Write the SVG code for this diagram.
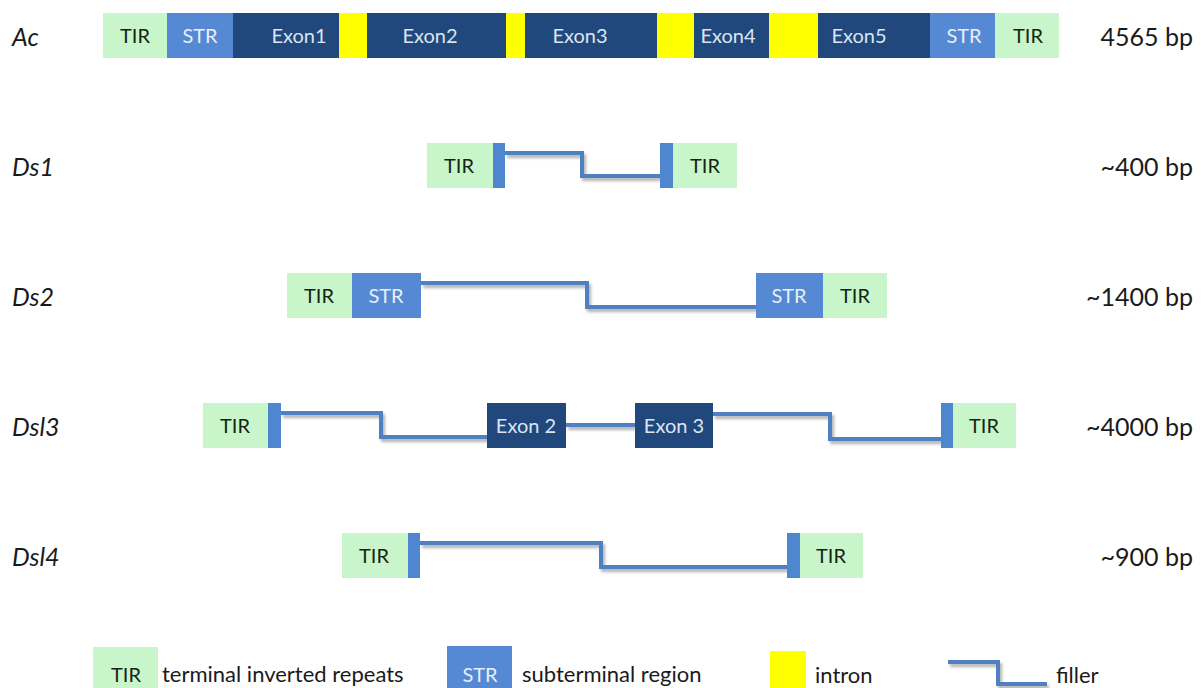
<svg xmlns="http://www.w3.org/2000/svg" width="1201" height="688" viewBox="0 0 1201 688">
<defs>
<filter id="sh" filterUnits="userSpaceOnUse" x="0" y="0" width="1201" height="688">
<feDropShadow dx="2" dy="3" stdDeviation="1.5" flood-color="#000" flood-opacity="0.3"/>
</filter>
<style>
.tir{fill:#c8f5c9}
.str{fill:#5589d3}
.exon{fill:#20487c}
.intron{fill:#ffff00}
.bar{fill:#4f86d0}
.filler{fill:none;stroke:#4f80c2;stroke-width:4;stroke-linejoin:miter;filter:url(#sh)}
text{font-family:Lato,"Open Sans","Liberation Sans",sans-serif}
.t{font-size:20px;fill:#152515;text-anchor:middle}
.ts{font-size:20px;fill:#e8eefa;text-anchor:middle}
.te{font-size:20px;fill:#dce4f0;text-anchor:middle}
.name{font-size:25px;font-style:italic;fill:#1a1a1a}
.size{font-size:25px;fill:#1a1a1a;text-anchor:end}
.leg{font-size:22px;fill:#1a1a1a}
</style>
</defs>
<rect width="1201" height="688" fill="#ffffff"/>

<g id="Ac">
<rect class="tir" x="103" y="13" width="64" height="45"/>
<rect class="str" x="167" y="13" width="66" height="45"/>
<rect class="exon" x="233" y="13" width="106" height="45"/>
<rect class="intron" x="339" y="13" width="28" height="45"/>
<rect class="exon" x="367" y="13" width="139" height="45"/>
<rect class="intron" x="506" y="13" width="19" height="45"/>
<rect class="exon" x="525" y="13" width="132" height="45"/>
<rect class="intron" x="657" y="13" width="37" height="45"/>
<rect class="exon" x="694" y="13" width="75" height="45"/>
<rect class="intron" x="769" y="13" width="49" height="45"/>
<rect class="exon" x="818" y="13" width="112" height="45"/>
<rect class="str" x="930" y="13" width="65" height="45"/>
<rect class="tir" x="995" y="13" width="64" height="45"/>
<text class="t" x="135" y="43">TIR</text>
<text class="ts" x="200" y="43">STR</text>
<text class="te" x="299" y="43">Exon1</text>
<text class="te" x="430" y="43">Exon2</text>
<text class="te" x="580" y="43">Exon3</text>
<text class="te" x="728" y="43">Exon4</text>
<text class="te" x="859" y="43">Exon5</text>
<text class="ts" x="964" y="43">STR</text>
<text class="t" x="1028" y="43">TIR</text>
<text class="name" x="12" y="46">Ac</text>
<text class="size" x="1193" y="46">4565 bp</text>
</g>

<g id="connectors">
<path class="filler" d="M505 153 H582 V176 H660"/>
<path class="filler" d="M421 283 H587 V307 H756"/>
<path class="filler" d="M281 413 H381 V437 H487"/>
<path class="filler" d="M566 425 H635"/>
<path class="filler" d="M713 414 H830 V439 H941"/>
<path class="filler" d="M420 543 H601 V567 H787"/>
</g>

<g id="Ds1">
<rect class="tir" x="427" y="143" width="66" height="45"/>
<rect class="bar" x="493" y="143" width="12" height="45"/>
<rect class="bar" x="660" y="143" width="13" height="45"/>
<rect class="tir" x="673" y="143" width="64" height="45"/>
<text class="t" x="459" y="173">TIR</text>
<text class="t" x="705" y="173">TIR</text>
<text class="name" x="12" y="176">Ds1</text>
<text class="size" x="1193" y="176">~400 bp</text>
</g>

<g id="Ds2">
<rect class="tir" x="287" y="273" width="65" height="45"/>
<rect class="str" x="352" y="273" width="69" height="45"/>
<rect class="str" x="756" y="273" width="67" height="45"/>
<rect class="tir" x="823" y="273" width="64" height="45"/>
<text class="t" x="319" y="303">TIR</text>
<text class="ts" x="386" y="303">STR</text>
<text class="ts" x="789" y="303">STR</text>
<text class="t" x="855" y="303">TIR</text>
<text class="name" x="12" y="306">Ds2</text>
<text class="size" x="1193" y="306">~1400 bp</text>
</g>

<g id="Dsl3">
<rect class="tir" x="203" y="403" width="65" height="45"/>
<rect class="bar" x="268" y="403" width="13" height="45"/>
<rect class="exon" x="487" y="403" width="79" height="45"/>
<rect class="exon" x="635" y="403" width="78" height="45"/>
<rect class="bar" x="941" y="403" width="12" height="45"/>
<rect class="tir" x="953" y="403" width="63" height="45"/>
<text class="t" x="235" y="433">TIR</text>
<text class="te" x="526" y="433">Exon 2</text>
<text class="te" x="674" y="433">Exon 3</text>
<text class="t" x="984" y="433">TIR</text>
<text class="name" x="12" y="436">Dsl3</text>
<text class="size" x="1193" y="436">~4000 bp</text>
</g>

<g id="Dsl4">
<rect class="tir" x="342" y="533" width="66" height="45"/>
<rect class="bar" x="408" y="533" width="12" height="45"/>
<rect class="bar" x="787" y="533" width="13" height="45"/>
<rect class="tir" x="800" y="533" width="63" height="45"/>
<text class="t" x="374" y="563">TIR</text>
<text class="t" x="831" y="563">TIR</text>
<text class="name" x="12" y="566">Dsl4</text>
<text class="size" x="1193" y="566">~900 bp</text>
</g>

<g id="legend">
<rect class="tir" x="93" y="647" width="65" height="41"/>
<text class="t" x="126" y="682">TIR</text>
<text class="leg" x="162" y="682">terminal inverted repeats</text>
<rect class="str" x="447" y="646" width="65" height="42"/>
<text class="ts" x="480" y="682">STR</text>
<text class="leg" x="522" y="682">subterminal region</text>
<rect class="intron" x="770" y="651" width="36" height="37"/>
<text class="leg" x="815" y="683">intron</text>
<path class="filler" d="M948 662 H998 V684 H1047"/>
<text class="leg" x="1056" y="683">filler</text>
</g>
</svg>
